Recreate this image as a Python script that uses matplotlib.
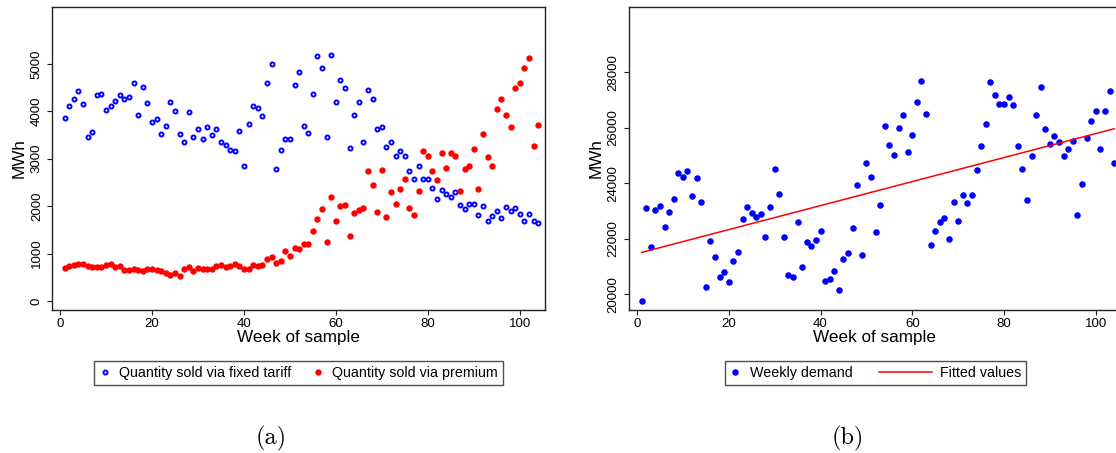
import numpy as np
import matplotlib
matplotlib.use("Agg")
import matplotlib.pyplot as plt
from matplotlib.legend_handler import HandlerLine2D

plt.rcParams["font.family"] = ["Liberation Sans", "DejaVu Sans"]

weeks = np.arange(1, 105)

fixed_tariff = [
    3853, 4113, 4253, 4436, 4148, 3452, 3571, 4352, 4373, 4021,
    4113, 4211, 4352, 4267, 4309, 4591, 3916, 4513, 4176, 3782,
    3831, 3529, 3698, 4197, 4014, 3529, 3360, 3986, 3452, 3620,
    3417, 3670, 3494, 3620, 3346, 3290, 3192, 3170, 3592, 2847,
    3740, 4113, 4077, 3909, 4598, 5005, 2777, 3178, 3410, 3424,
    4563, 4835, 3698, 3550, 4373, 5167, 4907, 3466, 5188, 4197,
    4668, 4499, 3234, 3916, 4197, 3360, 4443, 4267, 3627, 3677,
    3255, 3360, 3051, 3163, 3051, 2749, 2573, 2840, 2580, 2580,
    2390, 2151, 2334, 2257, 2193, 2306, 2025, 1940, 2046, 2046,
    1814, 2011, 1680, 1786, 1905, 1757, 1990, 1891, 1968, 1842,
    1680, 1835, 1687, 1645,
]

premium = [
    703, 745, 759, 773, 780, 738, 724, 724, 724, 766,
    773, 724, 738, 661, 661, 668, 647, 640, 682, 682,
    661, 640, 583, 555, 583, 534, 682, 724, 640, 696,
    682, 682, 682, 745, 752, 724, 745, 780, 745, 682,
    682, 759, 738, 759, 893, 928, 808, 851, 1061, 949,
    1118, 1090, 1209, 1209, 1483, 1736, 1947, 1251, 2186, 1694,
    2011, 2018, 1371, 1849, 1919, 1968, 2749, 2446, 1884, 2770,
    1779, 2299, 2053, 2362, 2573, 1968, 1821, 2320, 3170, 3065,
    2749, 2559, 3128, 2805, 3128, 3065, 2327, 2791, 2854, 3213,
    2369, 3522, 3044, 2854, 4049, 4267, 3930, 3677, 4485, 4591,
    4907, 5132, 3276, 3719,
]

weekly_demand = [
    19772, 23123, 21693, 23027, 23195, 22414, 22978, 23447, 24384, 24215,
    24431, 23543, 24191, 23315, 20276, 21934, 21345, 20612, 20817, 20432,
    21213, 21537, 22714, 23159, 22918, 22798, 22882, 22078, 23147, 24516,
    23627, 22078, 20709, 20612, 22594, 20973, 21898, 21753, 21958, 22270,
    20480, 20540, 20853, 20156, 21285, 21477, 22402, 23939, 21429, 24744,
    24240, 22258, 23231, 26053, 25380, 25008, 25993, 26473, 25140, 25741,
    26942, 27698, 26509, 21765, 22294, 22606, 22762, 21994, 23315, 22642,
    23579, 23303, 23591, 24468, 25356, 26125, 27662, 27182, 26846, 26846,
    27110, 26810, 25344, 24504, 23411, 24996, 26461, 27482, 25969, 25428,
    25705, 25500, 24984, 25236, 25525, 22846, 23963, 25620, 26257, 26617,
    25236, 26617, 27338, 24720,
]

left_ticks = [0, 1000, 2000, 3000, 4000, 5000]
right_ticks = [20000, 22000, 24000, 26000, 28000]
week_ticks = [0, 20, 40, 60, 80, 100]

BLUE = "#0000ff"
RED = "#ff0000"


class LongLine(HandlerLine2D):
    # legend line that reaches further left than the marker boxes
    def create_artists(self, legend, orig_handle, xdescent, ydescent,
                       width, height, fontsize, trans):
        extra = 2.85 * fontsize
        return super().create_artists(legend, orig_handle, xdescent + extra, ydescent,
                                      width + extra, height, fontsize, trans)


def style_axes(ax, yticks):
    for s in ax.spines.values():
        s.set_linewidth(1.0)
        s.set_color("#222222")
    ax.set_xlim(-1.75, 105.5)
    ax.set_xticks(week_ticks)
    ax.set_yticks(yticks)
    ax.tick_params(axis="both", direction="out", length=3.6, width=0.8,
                   labelsize=9.5, color="#222222")
    ax.tick_params(axis="x", pad=2)
    ax.tick_params(axis="y", pad=3)
    for lab in ax.get_yticklabels():
        lab.set_rotation(90)
        lab.set_va("center")
    ax.set_xlabel("Week of sample", fontsize=12.3, labelpad=0)
    ax.set_ylabel("MWh", fontsize=12.3, labelpad=3)


fig = plt.figure(figsize=(11.16, 4.53), dpi=100)

ax1 = fig.add_axes([0.0466, 0.3157, 0.4418, 0.6689])
ax1.plot(weeks, fixed_tariff, "o", color=BLUE, mfc="none", mec=BLUE, ms=2.9, mew=1.4,
         label="Quantity sold via fixed tariff")
ax1.plot(weeks, premium, "o", color=RED, mfc=RED, mec=RED, ms=4.6, mew=0,
         label="Quantity sold via premium")
ax1.set_ylim(-190, 6200)
style_axes(ax1, left_ticks)

ax2 = fig.add_axes([0.5636, 0.3157, 0.4409, 0.6689])
ax2.plot(weeks, weekly_demand, "o", color=BLUE, mfc=BLUE, mec=BLUE, ms=4.7, mew=0,
         label="Weekly demand")
slope, intercept = np.polyfit(weeks, weekly_demand, 1)
fitted = intercept + slope * weeks
ax2.plot(weeks, fitted, "-", color=RED, lw=1.1, label="Fitted values")
ax2.set_ylim(19435, 30350)
style_axes(ax2, right_ticks)

leg_kw = dict(loc="center", ncol=2, fontsize=10.3, frameon=True, fancybox=False,
              edgecolor="#222222", handlelength=0.8, handletextpad=0.6,
              borderpad=0.33, borderaxespad=0, numpoints=1)

h1, l1 = ax1.get_legend_handles_labels()
leg1 = fig.legend(h1, l1, bbox_to_anchor=(0.2675, 0.1766), columnspacing=1.45, **leg_kw)
leg1.get_frame().set_linewidth(1.0)

h2, l2 = ax2.get_legend_handles_labels()
leg2 = fig.legend(h2, l2, bbox_to_anchor=(0.7845, 0.1766), columnspacing=4.75,
                  handler_map={h2[1]: LongLine()}, **leg_kw)
leg2.get_frame().set_linewidth(1.0)

fig.text(271 / 1116, 0.033, "(a)", fontfamily="cmr10", fontsize=17.5, ha="center", va="center")
fig.text(848 / 1116, 0.033, "(b)", fontfamily="cmr10", fontsize=17.5, ha="center", va="center")

fig.savefig("out.png", dpi=100)
